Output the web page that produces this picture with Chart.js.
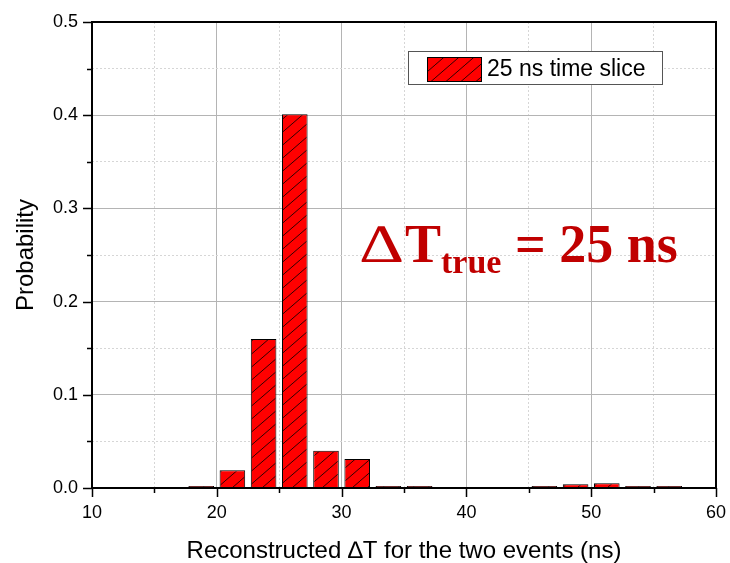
<!DOCTYPE html>
<html>
<head>
<meta charset="utf-8">
<script src="https://cdn.jsdelivr.net/npm/chart.js@4.4.1/dist/chart.umd.min.js"></script>
<style>
html, body { margin: 0; padding: 0; background: #fff; }
#wrap { width: 730px; height: 563px; }
</style>
</head>
<body>
<div id="wrap"><canvas id="deltaTChart" width="730" height="563"></canvas></div>
<script>
// histogram bins (ns) and their probabilities
const binCenters = [18.75, 21.25, 23.75, 26.25, 28.75, 31.25, 33.75, 36.25, 46.25, 48.75, 51.25, 53.75, 56.25];
const probabilities = [0.002, 0.019, 0.160, 0.401, 0.040, 0.031, 0.002, 0.002, 0.001, 0.004, 0.005, 0.001, 0.001];
const xTickLabels = ['10', '20', '30', '40', '50', '60'];
const yTickLabels = ['0.0', '0.1', '0.2', '0.3', '0.4', '0.5'];
const seriesLabel = '25 ns time slice';
const noteText = ['\u2206', 'T', 'true', ' = 25 ns'];

Chart.defaults.font.family = '"Liberation Sans", Arial, sans-serif';
Chart.defaults.color = '#000';

function makeHatch() {
    const c = document.createElement('canvas');
    c.width = 15;
    c.height = 13;
    const g = c.getContext('2d');
    g.fillStyle = '#ff0000';
    g.fillRect(0, 0, 15, 13);
    g.strokeStyle = '#1a0000';
    g.lineWidth = 0.9;
    g.beginPath();
    for (let k = -1; k <= 1; k++) {
        g.moveTo(k * 15, 13);
        g.lineTo(k * 15 + 15, 0);
    }
    g.stroke();
    return g.createPattern(c, 'repeat');
}

const hatch = makeHatch();

const isMajorX = v => Math.round(v) % 10 === 0;
const isMajorY = v => Math.round(v * 100) % 10 === 0;

const decorations = {
    id: 'decorations',
    afterDatasetsDraw(chart) {
        const { ctx, chartArea: a, scales: { x, y } } = chart;
        ctx.save();
        // outward ticks on the bottom and left axes
        ctx.strokeStyle = '#000';
        ctx.lineWidth = 1.5;
        ctx.beginPath();
        x.ticks.forEach(t => {
            const px = Math.round(x.getPixelForValue(t.value)) + 0.5;
            const len = isMajorX(t.value) ? 9 : 5;
            ctx.moveTo(px, a.bottom);
            ctx.lineTo(px, a.bottom + len);
        });
        y.ticks.forEach(t => {
            const py = Math.round(y.getPixelForValue(t.value)) + 0.5;
            const len = isMajorY(t.value) ? 9 : 5;
            ctx.moveTo(a.left, py);
            ctx.lineTo(a.left - len, py);
        });
        ctx.stroke();

        // frame
        ctx.lineWidth = 2;
        ctx.strokeRect(a.left, a.top, a.right - a.left, a.bottom - a.top);

        // legend
        const ds = chart.data.datasets[0];
        ctx.lineWidth = 1;
        ctx.fillStyle = '#fff';
        ctx.fillRect(408.5, 51.5, 254, 33);
        ctx.strokeStyle = '#555';
        ctx.strokeRect(408.5, 51.5, 254, 33);
        ctx.fillStyle = ds.backgroundColor;
        ctx.fillRect(427, 57, 55, 25);
        ctx.strokeStyle = '#000';
        ctx.strokeRect(427.5, 57.5, 54, 24);
        ctx.fillStyle = '#000';
        ctx.font = '23px "Liberation Sans", Arial, sans-serif';
        ctx.textBaseline = 'middle';
        ctx.textAlign = 'left';
        ctx.fillText(ds.label, 487, 70);

        // annotation
        ctx.fillStyle = '#c00000';
        ctx.textBaseline = 'alphabetic';
        const serif = '"Liberation Serif", "Times New Roman", serif';
        ctx.font = '54px ' + serif;
        const dw = ctx.measureText(noteText[0]).width;
        ctx.save();
        ctx.translate(360, 262);
        ctx.scale(1.3, 1);
        ctx.fillText(noteText[0], 0, 0);
        ctx.restore();
        let px = 360 + dw * 1.3 + 2;
        ctx.font = 'bold 54px ' + serif;
        ctx.fillText(noteText[1], px, 262);
        px += ctx.measureText(noteText[1]).width;
        ctx.font = 'bold 34px ' + serif;
        ctx.fillText(noteText[2], px, 273);
        px += ctx.measureText(noteText[2]).width;
        ctx.font = 'bold 54px ' + serif;
        ctx.fillText(noteText[3], px, 262);
        ctx.restore();
    }
};

const context = document.getElementById('deltaTChart').getContext('2d');
new Chart(context, {
    type: 'bar',
    data: {
        datasets: [{
            label: seriesLabel,
            data: binCenters.map((c, i) => ({ x: c, y: probabilities[i] })),
            backgroundColor: hatch,
            borderColor: '#000',
            borderWidth: 1,
            minBarLength: 2,
            barPercentage: 0.82,
            categoryPercentage: 1
        }]
    },
    options: {
        responsive: false,
        animation: false,
        layout: { padding: { left: 0, right: 14, top: 22, bottom: 0 } },
        plugins: {
            legend: { display: false },
            tooltip: { enabled: false }
        },
        scales: {
            x: {
                type: 'linear',
                offset: false,
                min: 10,
                max: 60,
                afterFit: scale => {
                    scale.height = 75;
                    scale.paddingLeft = 0;
                    scale.paddingRight = 0;
                },
                border: {
                    display: false,
                    dash: ctx => (ctx.tick && isMajorX(ctx.tick.value)) ? [] : [2, 2]
                },
                grid: {
                    offset: false,
                    drawTicks: false,
                    lineWidth: 1,
                    color: ctx => (ctx.tick && isMajorX(ctx.tick.value)) ? '#b4b4b4' : '#d6d6d6'
                },
                ticks: {
                    stepSize: 5,
                    autoSkip: false,
                    maxRotation: 0,
                    padding: 14,
                    font: { size: 18 },
                    callback: value => xTickLabels.includes(String(value)) ? String(value) : ''
                },
                title: {
                    display: true,
                    text: 'Reconstructed \u2206T for the two events (ns)',
                    font: { size: 24 },
                    padding: { top: 0, bottom: -3 }
                }
            },
            y: {
                min: 0,
                max: 0.5,
                afterFit: scale => {
                    scale.width = 92;
                    scale.paddingTop = 0;
                    scale.paddingBottom = 0;
                },
                border: {
                    display: false,
                    dash: ctx => (ctx.tick && isMajorY(ctx.tick.value)) ? [] : [2, 2]
                },
                grid: {
                    drawTicks: false,
                    lineWidth: 1,
                    color: ctx => (ctx.tick && isMajorY(ctx.tick.value)) ? '#b4b4b4' : '#d6d6d6'
                },
                ticks: {
                    stepSize: 0.05,
                    autoSkip: false,
                    padding: 14,
                    font: { size: 18 },
                    callback: value => {
                        const s = value.toFixed(1);
                        return isMajorY(value) && yTickLabels.includes(s) ? s : '';
                    }
                },
                title: {
                    display: true,
                    text: 'Probability',
                    font: { size: 24 },
                    padding: { top: 12, bottom: 0 }
                }
            }
        }
    },
    plugins: [decorations]
});
</script>
</body>
</html>
